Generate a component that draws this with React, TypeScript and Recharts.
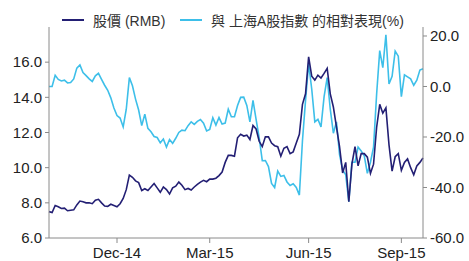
import { LineChart, Line, XAxis, YAxis, Legend } from 'recharts'

const dates = [
    '2014-09-25', '2014-09-29', '2014-10-02', '2014-10-05', '2014-10-08', '2014-10-11', '2014-10-14', '2014-10-17', '2014-10-20', '2014-10-23',
    '2014-10-26', '2014-10-29', '2014-11-01', '2014-11-04', '2014-11-07', '2014-11-10', '2014-11-13', '2014-11-16', '2014-11-19', '2014-11-22',
    '2014-11-25', '2014-11-28', '2014-12-01', '2014-12-04', '2014-12-07', '2014-12-10', '2014-12-13', '2014-12-16', '2014-12-19', '2014-12-22',
    '2014-12-25', '2014-12-28', '2014-12-31', '2015-01-03', '2015-01-06', '2015-01-09', '2015-01-12', '2015-01-15', '2015-01-18', '2015-01-21',
    '2015-01-24', '2015-01-27', '2015-01-30', '2015-02-02', '2015-02-05', '2015-02-08', '2015-02-11', '2015-02-14', '2015-02-17', '2015-02-20',
    '2015-02-23', '2015-02-26', '2015-03-02', '2015-03-05', '2015-03-08', '2015-03-11', '2015-03-13', '2015-03-16', '2015-03-19', '2015-03-22',
    '2015-03-25', '2015-03-27', '2015-03-30', '2015-04-02', '2015-04-05', '2015-04-08', '2015-04-10', '2015-04-13', '2015-04-16', '2015-04-19',
    '2015-04-22', '2015-04-24', '2015-04-27', '2015-04-30', '2015-05-03', '2015-05-06', '2015-05-08', '2015-05-11', '2015-05-14', '2015-05-17',
    '2015-05-20', '2015-05-23', '2015-05-26', '2015-05-29', '2015-06-01', '2015-06-04', '2015-06-07', '2015-06-10', '2015-06-13', '2015-06-16',
    '2015-06-19', '2015-06-22', '2015-06-25', '2015-06-28', '2015-07-01', '2015-07-04', '2015-07-07', '2015-07-10', '2015-07-13', '2015-07-17',
    '2015-07-20', '2015-07-23', '2015-07-26', '2015-07-29', '2015-08-01', '2015-08-04', '2015-08-07', '2015-08-10', '2015-08-13', '2015-08-16',
    '2015-08-19', '2015-08-22', '2015-08-25', '2015-08-28', '2015-09-01', '2015-09-04', '2015-09-07', '2015-09-10', '2015-09-13', '2015-09-16',
    '2015-09-19', '2015-09-22',
]

// 股價 (RMB), left axis
const price = [
    7.5, 7.45, 7.85, 7.78, 7.68, 7.7, 7.55, 7.58, 7.6, 7.88,
    8.1, 8.06, 8.0, 8.0, 7.95, 8.15, 8.2, 8.0, 7.82, 7.8,
    7.92, 7.85, 7.78, 7.95, 8.25, 8.75, 9.58, 9.45, 9.25, 9.15,
    8.7, 8.8, 8.7, 8.9, 9.1, 8.85, 8.6, 8.9, 8.75, 8.5,
    8.85, 8.95, 9.18, 9.0, 8.75, 8.82, 8.73, 8.9, 9.05, 9.18,
    9.28, 9.2, 9.35, 9.35, 9.4, 9.55, 9.75, 10.3, 10.7, 10.7,
    10.65, 11.7, 11.9, 11.8, 11.85, 11.6, 12.4, 12.2, 11.5, 11.2,
    11.76, 11.75, 11.4, 11.25, 11.19, 10.65, 11.1, 11.2, 10.8, 10.9,
    11.4, 11.9, 13.6, 14.2, 16.3, 15.2, 14.98, 15.26, 15.1, 15.36,
    15.65, 14.2, 13.45, 12.32, 11.2, 9.7, 10.3, 8.06, 10.2, 11.19,
    10.1, 10.8, 10.8, 10.6, 9.68, 10.2, 12.3, 13.6, 13.1, 13.4,
    11.3, 9.8, 10.62, 10.8, 9.85, 10.3, 10.5, 10.0, 9.6, 10.1,
    10.3, 10.55,
]

// 與上海A股指數的相對表現 (%), right axis
const relative = [
    0, 0, 4.4, 2.8, 2.2, 2.5, 1.4, 1.6, 3.0, 7.3,
    8.5, 5.5, 4.3, 3.0, 2.0, 4.2, 5.2, 2.8, 0.5, -1.5,
    -4.5, -8.5, -11.5, -12.5, -16, -9, 3.5, 0.3, -5, -9.3,
    -15.5, -11, -16.6, -17.9, -19.8, -20.2, -22.3, -20.8, -24, -21,
    -22.5, -20.5, -18.2, -17.3, -17.5, -15.5, -14, -15, -13.8, -13.1,
    -14.5, -17.6, -17, -12.4, -15.3, -12.3, -14.9, -14.5, -9, -12,
    -12, -7.5, -4.3, -4.2, -7.5, -14, -5.5, -13, -20.3, -29.4,
    -29.3, -31.7, -38.4, -40, -33.5, -35.6, -35.2, -37.8, -39.2, -38.5,
    -40, -43, -21.5, -5.5, 9, -1, -14, -13, -16, -4,
    3.5, -9, -18.5, -14, -27, -33, -35, -45.6, -30, -30,
    -24, -25.5, -27.5, -34.4, -30, -24, -3, 14.2, 7.5, 20.5,
    1, 4, 14, 12, -4, 4.6, 3.8, 3.0, 0.5, 2.5,
    6.5, 7,
]

const tickDates = ['2014-12-01', '2015-03-02', '2015-06-01', '2015-09-01']
const tickLabels = ['Dec-14', 'Mar-15', 'Jun-15', 'Sep-15']
const leftTicks = [6, 8, 10, 12, 14, 16]
const rightTicks = [-60, -40, -20, 0, 20]

const seriesNames = ['股價 (RMB)', '與 上海A股指數 的相對表現(%)']
const DARK = '#231f74'
const LIGHT = '#3dbfe9'
const FONT = "'Liberation Sans', 'Noto Sans CJK TC', sans-serif"
const AXIS = '#8a8a8a'

const data = dates.map((d, i) => ({ date: d, price: price[i], rel: relative[i] }))

function ChartLegend() {
    const items = [
        { name: seriesNames[0], color: DARK, left: 62 },
        { name: seriesNames[1], color: LIGHT, left: 180 },
    ]
    return (
        <div style={{ position: 'relative', height: 16, width: 469, fontFamily: FONT, fontSize: 14, color: '#333' }}>
            {items.map((it) => (
                <div key={it.name} style={{ position: 'absolute', left: it.left, top: 0, height: 16, display: 'flex', alignItems: 'center', whiteSpace: 'nowrap' }}>
                    <div style={{ width: 22, height: 2, background: it.color, marginRight: 9 }} />
                    <span>{it.name}</span>
                </div>
            ))}
        </div>
    )
}

export default function App() {
    const tickStyle = { fill: '#222', fontSize: 15, fontFamily: FONT }
    return (
        <div style={{ position: 'fixed', left: 0, top: 0, background: '#fff' }}>
            <LineChart width={469} height={261} data={data} margin={{ top: 11, right: 0, left: 0, bottom: 0 }}>
                <Legend
                    verticalAlign="top"
                    content={() => <ChartLegend />}
                    wrapperStyle={{ top: 12, left: 0, width: 469, height: 16 }}
                />
                <XAxis
                    dataKey="date"
                    ticks={tickDates}
                    interval={0}
                    tickFormatter={(d) => tickLabels[tickDates.indexOf(d)]}
                    height={23}
                    stroke={AXIS}
                    tickSize={5}
                    tickMargin={4}
                    tick={tickStyle}
                />
                <YAxis
                    yAxisId="left"
                    domain={[6, 18]}
                    ticks={leftTicks}
                    width={49}
                    stroke={AXIS}
                    tickSize={4}
                    tickMargin={3}
                    tick={tickStyle}
                    tickFormatter={(v) => v.toFixed(1)}
                />
                <YAxis
                    yAxisId="right"
                    orientation="right"
                    domain={[-60, 23.56]}
                    ticks={rightTicks}
                    width={46}
                    stroke={AXIS}
                    tickSize={4}
                    tickMargin={3}
                    tick={tickStyle}
                    tickFormatter={(v) => v.toFixed(1)}
                />
                <Line yAxisId="right" dataKey="rel" name={seriesNames[1]} type="linear" stroke={LIGHT} strokeWidth={1.6} dot={false} isAnimationActive={false} />
                <Line yAxisId="left" dataKey="price" name={seriesNames[0]} type="linear" stroke={DARK} strokeWidth={1.6} dot={false} isAnimationActive={false} />
            </LineChart>
        </div>
    )
}
